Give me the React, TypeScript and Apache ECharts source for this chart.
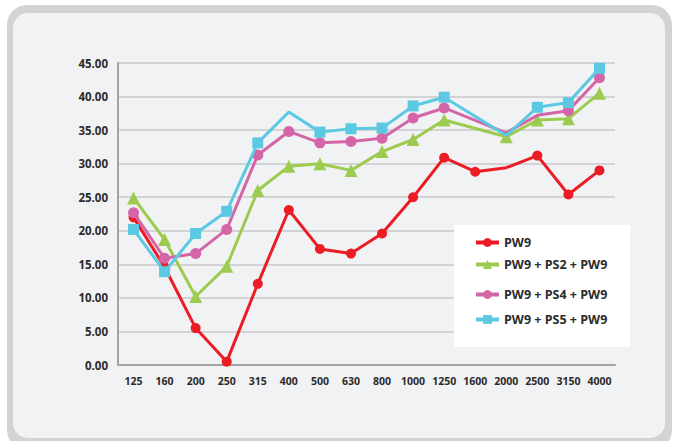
import React, { useEffect, useRef } from "react";
import * as echarts from "echarts";

const categories = ["125", "160", "200", "250", "315", "400", "500", "630", "800", "1000", "1250", "1600", "2000", "2500", "3150", "4000"];
const seriesNames = ["PW9", "PW9 + PS2 + PW9", "PW9 + PS4 + PW9", "PW9 + PS5 + PW9"];
const pw9: (number | null)[] = [22.0, 14.6, 5.5, 0.5, 12.1, 23.1, 17.3, 16.6, 19.6, 25.0, 30.9, 28.8, 29.4, 31.2, 25.4, 29.0];
const pw9ps2: (number | null)[] = [24.9, 18.7, 10.2, 14.7, 26.0, 29.6, 30.0, 29.0, 31.8, 33.6, 36.5, null, 34.0, 36.5, 36.7, 40.5];
const pw9ps4: (number | null)[] = [22.7, 15.9, 16.6, 20.2, 31.3, 34.8, 33.1, 33.3, 33.8, 36.8, 38.3, null, 34.6, 37.2, 37.9, 42.8];
const pw9ps5: (number | null)[] = [20.2, 13.9, 19.6, 22.9, 33.1, 37.7, 34.7, 35.2, 35.3, 38.6, 39.9, null, 34.2, 38.4, 39.1, 44.2];
// points drawn without a marker in the reference
const noMarker: number[][] = [[12], [], [12, 13], [5, 12]];
const yTicks = { min: 0, max: 45, interval: 5 };

const colors = ["#ec1c24", "#9dcb4f", "#d466a8", "#5bc9e2"];
const symbols = ["circle", "triangle", "circle", "rect"];
const symbolSizes = [10, 13, 11, 11];
const legendTops = [236, 258, 288, 313];

export default function App() {
  const ref = useRef<HTMLDivElement>(null);
  useEffect(() => {
    if (!ref.current) return;
    const chart = echarts.init(ref.current, undefined, { renderer: "svg" });
    const all = [pw9, pw9ps2, pw9ps4, pw9ps5];
    const series = all.map((arr, si) => ({
      name: seriesNames[si],
      type: "line",
      connectNulls: true,
      symbol: symbols[si],
      symbolSize: symbolSizes[si],
      showAllSymbol: true,
      data: arr.map((v, i) => (noMarker[si].includes(i) ? { value: v, symbol: "none" } : v)),
      lineStyle: { color: colors[si], width: 3 },
      itemStyle: { color: colors[si] },
      z: 2 + si,
    }));
    chart.setOption({
      animation: false,
      textStyle: { fontFamily: "Open Sans" },
      grid: { left: 118, right: 61, top: 63, bottom: 76, containLabel: false },
      xAxis: {
        type: "category",
        data: categories,
        boundaryGap: true,
        axisLine: { lineStyle: { color: "#a3a3a5", width: 2 } },
        axisTick: { alignWithLabel: true, length: 4, lineStyle: { color: "#a3a3a5", width: 1.5 } },
        axisLabel: { color: "#2b2b2b", fontWeight: "bold", fontSize: 10.5, margin: 10, fontFamily: "Open Sans", interval: 0 },
      },
      yAxis: {
        type: "value",
        min: yTicks.min,
        max: yTicks.max,
        interval: yTicks.interval,
        axisLine: { show: true, lineStyle: { color: "#a3a3a5", width: 2 } },
        axisTick: { show: false },
        splitLine: { lineStyle: { color: "#c8c9cb", width: 1.5 } },
        axisLabel: {
          color: "#2b2b2b",
          fontWeight: "bold",
          fontSize: 11.5,
          margin: 10,
          fontFamily: "Open Sans",
          formatter: (v: number) => v.toFixed(2),
        },
      },
      legend: seriesNames.map((n, i) => ({
        data: [n],
        orient: "vertical",
        left: 474,
        top: legendTops[i],
        padding: 0,
        itemWidth: 23,
        itemHeight: 11,
        lineStyle: { width: 4 },
        textStyle: { color: "#2b2b2b", fontWeight: "bold", fontSize: 12.5, fontFamily: "Open Sans" },
        z: 10,
      })),
      graphic: [
        {
          type: "rect",
          z: 1,
          shape: { x: 454, y: 225, width: 176, height: 122 },
          style: { fill: "#ffffff" },
        },
      ],
      series,
    });
    return () => chart.dispose();
  }, []);
  return (
    <div style={{ position: "fixed", left: 0, top: 0, width: 676, height: 441, background: "#ffffff", overflow: "hidden" }}>
      <div style={{ position: "absolute", left: 7, top: 5, width: 665, height: 445, background: "#d2d3d5", borderRadius: 20 }} />
      <div style={{ position: "absolute", left: 13, top: 13, width: 652, height: 425, background: "#f1f2f4", borderRadius: 15 }} />
      <div ref={ref} style={{ position: "absolute", left: 0, top: 0, width: 676, height: 441 }} />
    </div>
  );
}
